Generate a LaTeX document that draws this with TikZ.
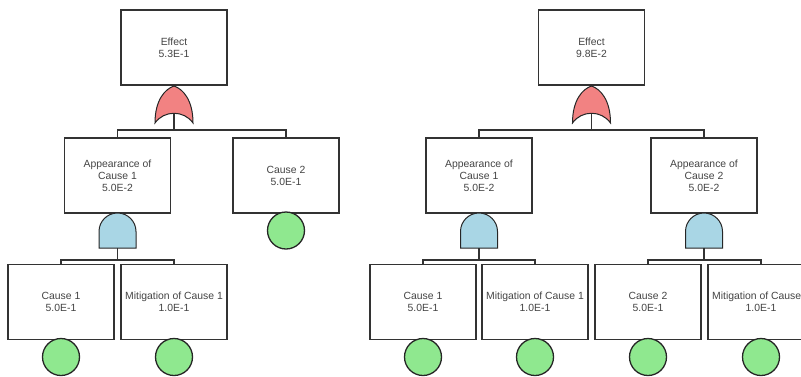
\documentclass[tikz,border=0pt]{standalone}
\usepackage{fontspec}
\setmainfont{Liberation Sans}
\definecolor{orfill}{HTML}{F28282}
\definecolor{andfill}{HTML}{A9D6E5}
\definecolor{basicfill}{HTML}{8FE88F}
\definecolor{edgegray}{HTML}{333333}
\definecolor{textgray}{HTML}{444444}
\begin{document}
\begin{tikzpicture}[x=1pt,y=-1pt,
  event/.style={rectangle, draw=edgegray, line width=1.4pt, fill=white,
    minimum width=106pt, minimum height=75pt, inner sep=0pt, align=center,
    font=\fontsize{10.4}{12}\selectfont, text=textgray},
  basic/.style={circle, draw=black!85, line width=1.3pt, fill=basicfill,
    minimum size=37pt, inner sep=0pt},
  link/.style={draw=edgegray, line width=1.2pt},
  gateline/.style={draw=black!85, line width=1pt},
  orgate/.pic={
    \path[gateline, fill=orfill] (0,0) .. controls (9,3) and (19,14) .. (19,37)
      .. controls (10,24) and (-10,24) .. (-19,37)
      .. controls (-19,14) and (-9,3) .. (0,0) -- cycle;
  },
  andgate/.pic={
    \path[gateline, fill=andfill] (-18.5,35) -- (-18.5,18.5)
      .. controls (-18.5,8.3) and (-10.2,0) .. (0,0)
      .. controls (10.2,0) and (18.5,8.3) .. (18.5,18.5)
      -- (18.5,35) -- cycle;
  },
]
\useasboundingbox (0,0) rectangle (801,376);
\clip (0,0) rectangle (801,376);

% horizontal bus levels
\coordinate (busTop) at (0,130);
\coordinate (busLow) at (0,260);

% ---------------- left tree ----------------
\node[event] (E1) at (174,47.5) {Effect\\5.3E-1};
\node[event] (A1) at (117.5,175.5) {Appearance of\\Cause 1\\5.0E-2};
\node[event] (C2) at (286,175.5) {Cause 2\\5.0E-1};
\node[event] (C1) at (61,302) {Cause 1\\5.0E-1};
\node[event] (M1) at (174,302) {Mitigation of Cause 1\\1.0E-1};

\node[basic] (bC2) at (286,230.5) {};
\node[basic] (bC1) at (61,357) {};
\node[basic] (bM1) at (174,357) {};

\coordinate (or1) at (174,86);
\coordinate (or1out) at (174,113);
\coordinate (and1) at (117.5,213);
\coordinate (and1out) at (117.5,248);

\draw[link] (or1out) -- (or1out |- busTop);
\draw[link] (A1.north) -- (A1.north |- busTop) -- (C2.north |- busTop) -- (C2.north);
\draw[link] (and1out) -- (and1out |- busLow);
\draw[link] (C1.north) -- (C1.north |- busLow) -- (M1.north |- busLow) -- (M1.north);

\pic at (or1) {orgate};
\pic at (and1) {andgate};

% ---------------- right tree ----------------
\node[event] (E2) at (591.5,47.5) {Effect\\9.8E-2};
\node[event] (A1r) at (479,175.5) {Appearance of\\Cause 1\\5.0E-2};
\node[event] (A2r) at (704,175.5) {Appearance of\\Cause 2\\5.0E-2};
\node[event] (C1r) at (423,302) {Cause 1\\5.0E-1};
\node[event] (M1r) at (535,302) {Mitigation of Cause 1\\1.0E-1};
\node[event] (C2r) at (648,302) {Cause 2\\5.0E-1};
\node[event] (M2r) at (761,302) {Mitigation of Cause 2\\1.0E-1};

\node[basic] (bC1r) at (423,357) {};
\node[basic] (bM1r) at (535,357) {};
\node[basic] (bC2r) at (648,357) {};
\node[basic] (bM2r) at (761,357) {};

\coordinate (or2) at (591.5,86);
\coordinate (or2out) at (591.5,113);
\coordinate (and2) at (479,213);
\coordinate (and2out) at (479,248);
\coordinate (and3) at (704,213);
\coordinate (and3out) at (704,248);

\draw[link] (or2out) -- (or2out |- busTop);
\draw[link] (A1r.north) -- (A1r.north |- busTop) -- (A2r.north |- busTop) -- (A2r.north);
\draw[link] (and2out) -- (and2out |- busLow);
\draw[link] (C1r.north) -- (C1r.north |- busLow) -- (M1r.north |- busLow) -- (M1r.north);
\draw[link] (and3out) -- (and3out |- busLow);
\draw[link] (C2r.north) -- (C2r.north |- busLow) -- (M2r.north |- busLow) -- (M2r.north);

\pic at (or2) {orgate};
\pic at (and2) {andgate};
\pic at (and3) {andgate};
\end{tikzpicture}
\end{document}
